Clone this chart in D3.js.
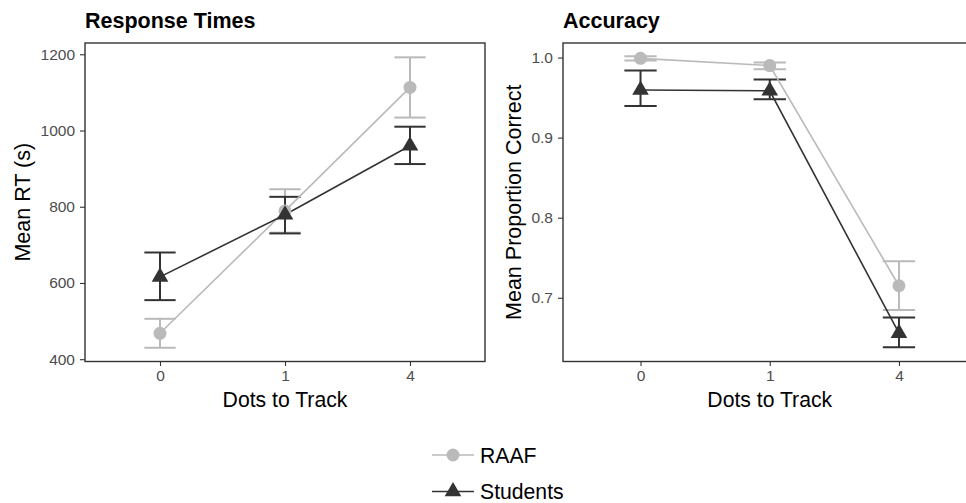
<!DOCTYPE html>
<html>
<head>
<meta charset="utf-8">
<script src="https://cdn.jsdelivr.net/npm/d3@7"></script>
<style>
  html, body { margin: 0; padding: 0; background: #fff; }
  svg { display: block; font-family: "Liberation Sans", Arial, sans-serif; }
</style>
</head>
<body>
<svg id="chart" width="966" height="503"></svg>
<script>
// Two-panel chart: response times and accuracy by number of dots to track

// Data
const dots = ["0", "1", "4"];
const groups = ["RAAF", "Students"];

const rtRAAF = [468, 789, 1113];
const rtRAAFLo = [430, 732, 1034];
const rtRAAFHi = [506, 846, 1192];
const rtStudents = [616, 779, 960];
const rtStudentsLo = [555, 730, 912];
const rtStudentsHi = [680, 826, 1010];

const accRAAF = [0.999, 0.990, 0.715];
const accRAAFLo = [0.9963, 0.9854, 0.6847];
const accRAAFHi = [1.0016, 0.994, 0.7457];
const accStudents = [0.9595, 0.9585, 0.6558];
const accStudentsLo = [0.9396, 0.948, 0.6381];
const accStudentsHi = [0.9838, 0.9725, 0.6755];

const rtTicks = [400, 600, 800, 1000, 1200];
const accTicks = [0.7, 0.8, 0.9, 1.0];

const colors = { RAAF: "#bababa", Students: "#333333" };

const svg = d3.select("#chart");

function series(vals, lo, hi) {
  return dots.map((d, i) => ({ dot: d, v: vals[i], lo: lo[i], hi: hi[i] }));
}

const panels = [
  {
    title: "Response Times",
    yLabel: "Mean RT (s)",
    box: { left: 85, right: 485, top: 43, bottom: 361.5 },
    domain: [394, 1229.6],
    ticks: rtTicks,
    fmt: d3.format("d"),
    yLabelX: 30,
    data: {
      RAAF: series(rtRAAF, rtRAAFLo, rtRAAFHi),
      Students: series(rtStudents, rtStudentsLo, rtStudentsHi),
    },
  },
  {
    title: "Accuracy",
    yLabel: "Mean Proportion Correct",
    box: { left: 563, right: 976.5, top: 43, bottom: 361.5 },
    domain: [0.6204, 1.0182],
    ticks: accTicks,
    fmt: d3.format(".1f"),
    yLabelX: 520.5,
    data: {
      RAAF: series(accRAAF, accRAAFLo, accRAAFHi),
      Students: series(accStudents, accStudentsLo, accStudentsHi),
    },
  },
];

const triangle = d3.symbol().type(d3.symbolTriangle).size(120);

panels.forEach((p) => {
  const b = p.box;
  // discrete x scale with ggplot-style 0.6 expansion
  const x = d3.scalePoint().domain(dots).range([b.left, b.right]).padding(0.6);
  const step = x.step();
  const y = d3.scaleLinear().domain(p.domain).range([b.bottom, b.top]);
  const g = svg.append("g");

  // title
  g.append("text")
    .attr("x", b.left)
    .attr("y", 27.5)
    .attr("font-size", 21.5)
    .attr("font-weight", "bold")
    .attr("fill", "#000")
    .text(p.title);

  // y axis
  const yAxis = g.append("g")
    .attr("transform", `translate(${b.left},0)`)
    .call(d3.axisLeft(y).tickValues(p.ticks).tickFormat(p.fmt).tickSize(5).tickPadding(5));
  yAxis.select(".domain").remove();
  yAxis.selectAll("line").attr("stroke", "#333").attr("stroke-width", 1.1);
  yAxis.selectAll("text").attr("font-size", 15.5).attr("fill", "#4d4d4d").attr("font-family", null);

  // x axis
  const xAxis = g.append("g")
    .attr("transform", `translate(0,${b.bottom})`)
    .call(d3.axisBottom(x).tickSize(4.5).tickPadding(4));
  xAxis.select(".domain").remove();
  xAxis.selectAll("line").attr("stroke", "#333").attr("stroke-width", 1.1);
  xAxis.selectAll("text").attr("font-size", 15.5).attr("fill", "#4d4d4d").attr("font-family", null);

  // axis titles
  g.append("text")
    .attr("x", (b.left + b.right) / 2)
    .attr("y", 407)
    .attr("text-anchor", "middle")
    .attr("font-size", 21.2)
    .text("Dots to Track");
  g.append("text")
    .attr("transform", `translate(${p.yLabelX},${(b.top + b.bottom) / 2}) rotate(-90)`)
    .attr("text-anchor", "middle")
    .attr("font-size", 21.5)
    .text(p.yLabel);

  // error bars
  groups.forEach((grp) => {
    const eg = g.append("g").attr("stroke", colors[grp]).attr("stroke-width", 2);
    p.data[grp].forEach((d) => {
      const cx = x(d.dot);
      const hw = step * 0.125;
      eg.append("line").attr("x1", cx).attr("x2", cx).attr("y1", y(d.lo)).attr("y2", y(d.hi));
      eg.append("line").attr("x1", cx - hw).attr("x2", cx + hw).attr("y1", y(d.lo)).attr("y2", y(d.lo));
      eg.append("line").attr("x1", cx - hw).attr("x2", cx + hw).attr("y1", y(d.hi)).attr("y2", y(d.hi));
    });
  });

  // lines
  const line = d3.line().x((d) => x(d.dot)).y((d) => y(d.v));
  groups.forEach((grp) => {
    g.append("path")
      .datum(p.data[grp])
      .attr("d", line)
      .attr("fill", "none")
      .attr("stroke", colors[grp])
      .attr("stroke-width", 1.6);
  });

  // points
  g.selectAll(".pt-raaf")
    .data(p.data.RAAF)
    .join("circle")
    .attr("cx", (d) => x(d.dot))
    .attr("cy", (d) => y(d.v))
    .attr("r", 6.5)
    .attr("fill", colors.RAAF);
  g.selectAll(".pt-stu")
    .data(p.data.Students)
    .join("path")
    .attr("d", triangle)
    .attr("transform", (d) => `translate(${x(d.dot)},${y(d.v)})`)
    .attr("fill", colors.Students);

  // panel border
  g.append("rect")
    .attr("x", b.left)
    .attr("y", b.top)
    .attr("width", b.right - b.left)
    .attr("height", b.bottom - b.top)
    .attr("fill", "none")
    .attr("stroke", "#333")
    .attr("stroke-width", 1.4);
});

// legend
const legend = svg.append("g");
const legendRows = [
  { grp: "RAAF", y: 455 },
  { grp: "Students", y: 491.5 },
];
legendRows.forEach((r) => {
  legend.append("line")
    .attr("x1", 432).attr("x2", 474)
    .attr("y1", r.y).attr("y2", r.y)
    .attr("stroke", colors[r.grp])
    .attr("stroke-width", 1.6);
  if (r.grp === "RAAF") {
    legend.append("circle").attr("cx", 453).attr("cy", r.y).attr("r", 6.5).attr("fill", colors.RAAF);
  } else {
    legend.append("path").attr("d", triangle).attr("transform", `translate(453,${r.y})`).attr("fill", colors.Students);
  }
  legend.append("text")
    .attr("x", 480)
    .attr("y", r.y + 7.5)
    .attr("font-size", 21.2)
    .attr("fill", "#000")
    .text(r.grp);
});
</script>
</body>
</html>
